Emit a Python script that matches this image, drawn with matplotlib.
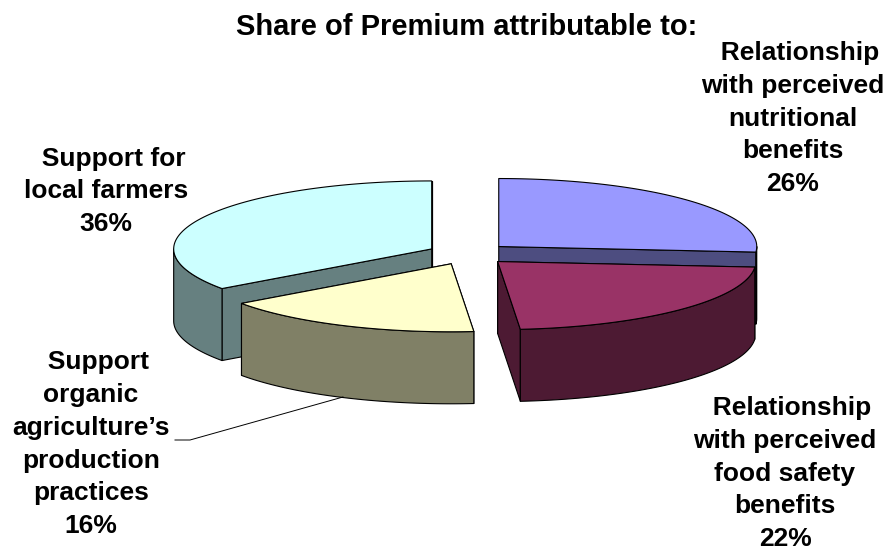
#!/usr/bin/env python3

import numpy as np
import matplotlib
matplotlib.use("Agg")
import matplotlib.pyplot as plt
from matplotlib.patches import Polygon

title = "Share of Premium attributable to:"

# percentages printed on the labels
pct_labels = [26, 22, 16, 36]
names = [
    "  Relationship\nwith perceived\nnutritional\nbenefits",
    "  Relationship\nwith perceived\nfood safety\nbenefits",
    "  Support\norganic\nagriculture\u2019s\nproduction\npractices",
    "  Support for\nlocal farmers",
]
# the 3d projection squeezes the slices, these are the arcs as they look in the picture
drawn_shares = [26.3, 22.3, 16.5, 34.9]

top_colors = ["#9999FF", "#993366", "#FFFFCC", "#CCFFFF"]
side_colors = ["#4D4D80", "#4D1A33", "#808066", "#668080"]
# centre x and baseline of the last line
label_pos = [(793, 191), (785, 546), (91, 533), (106, 231)]

# pie geometry in pixels
cx, cy = 468.4, 253.9
rx, ry = 258.0, 68.0
depth = 72.0
explode = 0.16
edge_lw = 0.8


def rim(a0, a1, ox, oy, n=80):
    # points on the ellipse, angle is clockwise from 12 o'clock
    t = np.radians(np.linspace(a0, a1, n))
    return np.column_stack((ox + rx * np.sin(t), oy - ry * np.cos(t)))


def add_face(ax, pts, color):
    ax.add_patch(Polygon(pts, closed=True, facecolor=color, edgecolor="black",
                         linewidth=edge_lw, joinstyle="round"))


def draw_slice(ax, a0, a1, top, side):
    mid = np.radians((a0 + a1) / 2)
    ox = cx + explode * rx * np.sin(mid)
    oy = cy - explode * ry * np.cos(mid)
    down = np.array([0, depth])
    apex = np.array([ox, oy])

    # cut faces
    for a in (a0, a1):
        p = rim(a, a, ox, oy, n=1)[0]
        add_face(ax, [apex, p, p + down, apex + down], side)

    # outer wall, only the part facing us
    w0, w1 = max(a0, 90), min(a1, 270)
    if w1 > w0:
        arc = rim(w0, w1, ox, oy)
        add_face(ax, np.vstack((arc, arc[::-1] + down)), side)

    add_face(ax, np.vstack((apex, rim(a0, a1, ox, oy))), top)


fig = plt.figure(figsize=(8.85, 5.48), dpi=100)
ax = fig.add_axes([0, 0, 1, 1])
ax.set_xlim(0, 885)
ax.set_ylim(548, 0)
ax.axis("off")

edges = np.concatenate(([0], np.cumsum(drawn_shares))) / sum(drawn_shares) * 360

# back to front
for i in [3, 0, 1, 2]:
    draw_slice(ax, edges[i], edges[i + 1], top_colors[i], side_colors[i])

# leader line for the organic label
ax.plot([175, 190, 343], [440, 440, 397], color="black", lw=0.7, zorder=1)

font = {"family": "Liberation Sans", "weight": "bold", "color": "black"}
ax.text(467, 35, title, ha="center", va="baseline", size=21, **font)
for name, pct, (x, y) in zip(names, pct_labels, label_pos):
    ax.text(x, y, f"{name}\n{pct}%", ha="center", va="baseline", multialignment="center",
            linespacing=1.46, size=19, **font)

fig.savefig("out.png", dpi=100)
